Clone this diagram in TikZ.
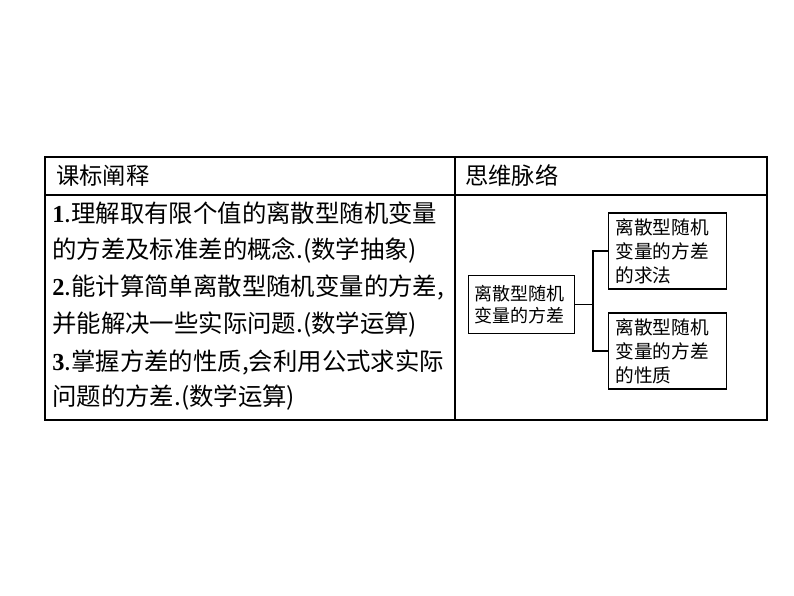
\documentclass[tikz,border=0pt]{standalone}
\usepackage{fontspec}
\setmainfont{Liberation Serif}
\newfontfamily\cjk{Noto Sans CJK SC}
\begin{document}
\begin{tikzpicture}[x=0.75pt,y=-0.75pt,
  tline/.style={anchor=west,inner sep=0pt,font=\fontsize{18.3pt}{22pt}\selectfont},
  hline/.style={anchor=west,inner sep=0pt,font=\fontsize{17.5pt}{20pt}\selectfont},
  mbox/.style={draw,line width=0.9pt,align=left,inner sep=0pt,font=\cjk\fontsize{13.5pt}{16pt}\selectfont},
  conn/.style={line width=0.8pt}]
\useasboundingbox (0,0) rectangle (794,596);
\draw[line width=0.9pt] (45,157) rectangle (767,420);
\draw[line width=0.9pt] (45,195) -- (767,195);
\draw[line width=0.9pt] (455,157) -- (455,420);
\node[hline] (h1) at (56,176) {\cjk 课标阐释};
\node[hline] (h2) at (465,176) {\cjk 思维脉络};
\node[tline] (l1) at (52,213) {\textbf{1}\cjk .理解取有限个值的离散型随机变量};
\node[tline] (l2) at (52,250) {\cjk 的方差及标准差的概念.(数学抽象)};
\node[tline] (l3) at (52,287) {\textbf{2}\cjk .能计算简单离散型随机变量的方差,};
\node[tline] (l4) at (52,325) {\cjk 并能解决一些实际问题.(数学运算)};
\node[tline] (l5) at (52,362) {\textbf{3}\cjk .掌握方差的性质,会利用公式求实际};
\node[tline] (l6) at (52,398) {\cjk 问题的方差.(数学运算)};
\node[mbox,minimum width=80pt,minimum height=43pt,text width=70pt] (a) at (521.5,304.5) {离散型随机\\变量的方差};
\node[mbox,font=\cjk\fontsize{14pt}{18pt}\selectfont,minimum width=89pt,minimum height=57pt,text width=78pt] (b) at (667.5,251) {离散型随机\\变量的方差\\的求法};
\node[mbox,font=\cjk\fontsize{14pt}{18pt}\selectfont,minimum width=89pt,minimum height=57pt,text width=78pt] (c) at (667.5,351) {离散型随机\\变量的方差\\的性质};
\coordinate (j) at (593,304.5);
\draw[conn] (a.east) -- (j);
\draw[conn] (b.west) -| (j) |- (c.west);
\end{tikzpicture}
\end{document}
